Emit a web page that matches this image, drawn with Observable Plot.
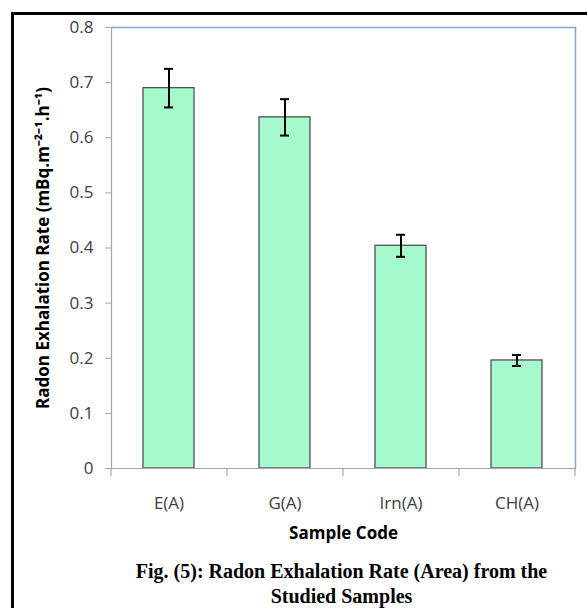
<!DOCTYPE html>
<html>
<head>
<meta charset="utf-8">
<script src="https://cdn.jsdelivr.net/npm/d3@7"></script>
<script src="https://cdn.jsdelivr.net/npm/@observablehq/plot@0.6"></script>
<style>
  html, body { margin: 0; padding: 0; background: #fff; }
  #wrap { position: relative; width: 587px; height: 608px; overflow: hidden; background: #fff; }
  #border { position: absolute; left: 11px; top: 12px; width: 700px; height: 700px; border: 3px solid #000; box-sizing: border-box; }
  #chart { position: absolute; left: 0; top: 0; }
  #caption { position: absolute; left: 0; width: 683px; top: 559px; text-align: center;
    font-family: "Liberation Serif", "Times New Roman", serif; font-weight: bold; font-size: 20px; line-height: 25px; color: #000; }
</style>
</head>
<body>
<div id="wrap">
  <div id="border"></div>
  <div id="chart"></div>
  <div id="caption">Fig. (5): Radon Exhalation Rate (Area) from the<br>Studied Samples</div>
</div>
<script>
const codes = ["E(A)", "G(A)", "Irn(A)", "CH(A)"];
const rates = [0.690, 0.637, 0.404, 0.196];
const errors = [0.035, 0.033, 0.020, 0.010];
const yTicks = [0, 0.1, 0.2, 0.3, 0.4, 0.5, 0.6, 0.7, 0.8];
const xTitle = "Sample Code";
const yTitle = "Radon Exhalation Rate (mBq.m\u207B\u00B2\u207B\u00B9.h\u207B\u00B9)";

const data = codes.map((c, i) => ({code: c, rate: rates[i], lo: rates[i] - errors[i], hi: rates[i] + errors[i]}));

const halfStep = 58;

const chart = Plot.plot({
  width: 587,
  height: 548,
  marginLeft: 111,
  marginRight: 12,
  marginTop: 27,
  marginBottom: 80,
  style: {fontFamily: "'Open Sans', sans-serif", fontSize: "16px", color: "#404040", background: "transparent"},
  x: {domain: codes, paddingInner: 0.56, paddingOuter: 0.28, label: null},
  y: {domain: [0, 0.8], label: null},
  marks: [
    Plot.frame({anchor: "top", stroke: "#86a3d3", strokeWidth: 1.5}),
    Plot.frame({anchor: "right", stroke: "#86a3d3", strokeWidth: 1.5}),
    Plot.frame({anchor: "left", stroke: "#a6a6a6", strokeWidth: 1.2}),
    Plot.barY(data, {x: "code", y: "rate", fill: "#a6f9cc", stroke: "#505050", strokeWidth: 1.3}),
    Plot.ruleY([0], {stroke: "#a6a6a6", strokeWidth: 1.2}),
    Plot.ruleX(codes, {x: d => d, dx: -halfStep, y1: 0, y2: 0, insetBottom: -8, stroke: "#a6a6a6", strokeWidth: 1.2}),
    Plot.ruleX([codes[codes.length - 1]], {x: d => d, dx: halfStep, y1: 0, y2: 0, insetBottom: -8, stroke: "#a6a6a6", strokeWidth: 1.2}),
    Plot.axisY({ticks: yTicks, tickFormat: d => d === 0 ? "0" : d.toFixed(1), tickSize: 6, tickPadding: 12, stroke: "#a6a6a6", fill: "#404040", fontSize: 17, label: null}),
    Plot.axisX({tickSize: 0, tickPadding: 28, fill: "#404040", fontSize: 17, label: null}),
    Plot.ruleX(data, {x: "code", y1: "lo", y2: "hi", stroke: "#000", strokeWidth: 2}),
    Plot.tickY(data, {x: "code", y: "hi", stroke: "#000", strokeWidth: 2, insetLeft: 21, insetRight: 21}),
    Plot.tickY(data, {x: "code", y: "lo", stroke: "#000", strokeWidth: 2, insetLeft: 21, insetRight: 21}),
    Plot.text([xTitle], {frameAnchor: "bottom", dy: 70, textAnchor: "middle", fontWeight: "bold", fontSize: 17, fill: "#000"}),
    Plot.text([yTitle], {frameAnchor: "left", dx: -68, rotate: -90, textAnchor: "middle", fontWeight: "bold", fontSize: 17, fill: "#000"})
  ]
});
document.getElementById("chart").appendChild(chart);
</script>
</body>
</html>
